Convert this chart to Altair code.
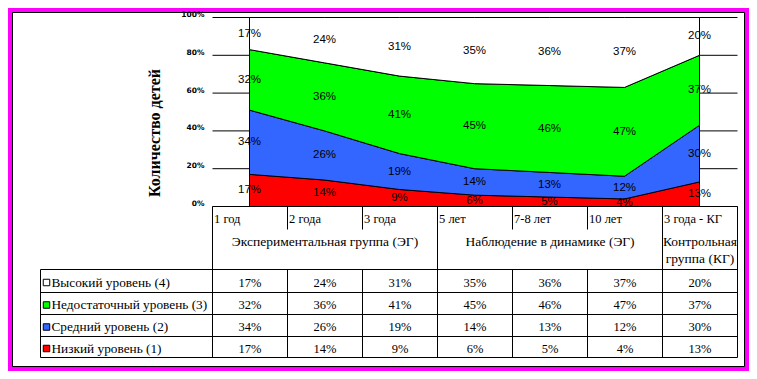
import altair as alt
import pandas as pd

# ---------------- data ----------------
categories = ["1 год", "2 года", "3 года", "5 лет", "7-8 лет", "10 лет", "3 года - КГ"]
series_names = ["Высокий уровень (4)", "Недостаточный уровень (3)", "Средний уровень (2)", "Низкий уровень (1)"]
series_colors = ["#FFFFFF", "#00FF00", "#3366FF", "#FF0000"]
high = [17, 24, 31, 35, 36, 37, 20]
insufficient = [32, 36, 41, 45, 46, 47, 37]
medium = [34, 26, 19, 14, 13, 12, 30]
low = [17, 14, 9, 6, 5, 4, 13]
groups = ["Экспериментальная группа (ЭГ)", "Наблюдение в динамике (ЭГ)", "Контрольная\nгруппа (КГ)"]
group_first = [0, 3, 6]
group_last = [2, 5, 6]
y_ticks = [0, 20, 40, 60, 80, 100]
y_tick_labels = ["0%", "20%", "40%", "60%", "80%", "100%"]
y_title = "Количество детей"

series_values = [high, insufficient, medium, low]

# ---------------- layout (pixels) ----------------
W, H = 741, 363
COL0 = 204.5          # left edge of first table column
COLW = 75
LEG_X = 32.5          # left edge of legend column
HDR_TOP = 198.5
HDR_SPLIT = 221.5
ROWS = [261.5, 284.5, 306.5, 328.5, 349.5]
TABLE_R = COL0 + COLW * len(categories)

xs = alt.Scale(domain=[0, len(categories) - 1], range=[COL0 + COLW / 2 - 0.5, COL0 + COLW * (len(categories) - 0.5) - 0.5], nice=False, zero=False)
ys = alt.Scale(domain=[0, 100], range=[198.5, 9.5], nice=False, zero=False)

# stacked areas (bottom-up cumulative)
area_rows = []
label_rows = []
n = len(categories)
for i in range(n):
    base = 0
    for j in reversed(range(len(series_names))):
        v = series_values[j][i]
        area_rows.append(dict(idx=i, series=series_names[j], lo=base, hi=base + v))
        label_rows.append(dict(idx=i, mid=base + v / 2, txt=f"{v}%"))
        base += v
area_df = pd.DataFrame(area_rows)
label_df = pd.DataFrame(label_rows)

one = pd.DataFrame({"a": [0]})

frame = alt.Chart(one).mark_rect(fill="#FF00FF").encode(
    x=alt.value(0), x2=alt.value(W), y=alt.value(0), y2=alt.value(H))
inner = alt.Chart(one).mark_rect(fill="white", stroke="black", strokeWidth=1).encode(
    x=alt.value(4.5), x2=alt.value(W - 4.5), y=alt.value(4.5), y2=alt.value(H - 4.5))

grid = alt.Chart(pd.DataFrame({"t": y_ticks})).mark_rule(color="black", strokeWidth=1).encode(
    x=alt.value(COL0), x2=alt.value(TABLE_R),
    y=alt.Y("t:Q", scale=ys, axis=None))

ylabels = alt.Chart(pd.DataFrame({"t": y_ticks, "lab": y_tick_labels})).mark_text(
    align="right", baseline="middle", font="DejaVu Sans", fontSize=7.5, fontWeight="bold", dy=-2.5
).encode(x=alt.value(196.5), y=alt.Y("t:Q", scale=ys, axis=None), text="lab:N")

ytitle = alt.Chart(pd.DataFrame({"lab": [y_title]})).mark_text(
    angle=270, align="center", baseline="middle", font="Liberation Serif", fontSize=16, fontWeight="bold"
).encode(x=alt.value(147), y=alt.value(125), text="lab:N")

areas = alt.Chart(area_df).mark_area(stroke="black", strokeWidth=1, interpolate="linear", opacity=1).encode(
    x=alt.X("idx:Q", scale=xs, axis=None),
    y=alt.Y("hi:Q", scale=ys, axis=None),
    y2="lo:Q",
    color=alt.Color("series:N", scale=alt.Scale(domain=series_names, range=series_colors), legend=None),
    detail="series:N")

labels = alt.Chart(label_df).mark_text(
    font="Liberation Sans", fontSize=11.5, baseline="middle", align="center", color="black"
).encode(x=alt.X("idx:Q", scale=xs, axis=None), y=alt.Y("mid:Q", scale=ys, axis=None), text="txt:N")

# table lines
lines = []
lines.append(dict(x1=COL0, x2=TABLE_R, y1=HDR_TOP, y2=HDR_TOP))
for r in ROWS:
    lines.append(dict(x1=LEG_X, x2=TABLE_R, y1=r, y2=r))
lines.append(dict(x1=LEG_X, x2=LEG_X, y1=ROWS[0], y2=ROWS[-1]))
group_edges = set([group_first[0]] + [g + 1 for g in group_last])
for k in range(n + 1):
    x = COL0 + COLW * k
    if k in group_edges:
        lines.append(dict(x1=x, x2=x, y1=HDR_TOP, y2=ROWS[-1]))
    else:
        lines.append(dict(x1=x, x2=x, y1=HDR_TOP, y2=HDR_SPLIT))
        lines.append(dict(x1=x, x2=x, y1=ROWS[0], y2=ROWS[-1]))
lines_df = pd.DataFrame(lines)
table_lines = alt.Chart(lines_df).mark_rule(color="black", strokeWidth=1).encode(
    x=alt.X("x1:Q", scale=None, axis=None), x2="x2:Q",
    y=alt.Y("y1:Q", scale=None, axis=None), y2="y2:Q")

serif = "Liberation Serif"

cat_df = pd.DataFrame({"txt": categories, "x": [COL0 + COLW * i + 1.5 for i in range(n)], "y": [210.5] * n})
cat_text = alt.Chart(cat_df).mark_text(align="left", baseline="middle", font=serif, fontSize=12.5).encode(
    x=alt.X("x:Q", scale=None, axis=None), y=alt.Y("y:Q", scale=None, axis=None), text="txt:N")

grp_df = pd.DataFrame({"txt": groups,
                       "x": [COL0 + COLW * (f + l + 1) / 2 for f, l in zip(group_first, group_last)],
                       "y": [233.5] * len(groups)})
grp_text = alt.Chart(grp_df).mark_text(align="center", baseline="middle", font=serif, fontSize=13.5,
                                       lineBreak="\n", lineHeight=17).encode(
    x=alt.X("x:Q", scale=None, axis=None), y=alt.Y("y:Q", scale=None, axis=None), text="txt:N")

cell_rows = []
for j, vals in enumerate(series_values):
    yc = (ROWS[j] + ROWS[j + 1]) / 2 + 1.5
    for i, v in enumerate(vals):
        cell_rows.append(dict(txt=f"{v}%", x=COL0 + COLW * (i + 0.5), y=yc))
cell_df = pd.DataFrame(cell_rows)
cell_text = alt.Chart(cell_df).mark_text(align="center", baseline="middle", font=serif, fontSize=12.5).encode(
    x=alt.X("x:Q", scale=None, axis=None), y=alt.Y("y:Q", scale=None, axis=None), text="txt:N")

leg_df = pd.DataFrame({"series": series_names,
                       "y": [(ROWS[j] + ROWS[j + 1]) / 2 + 1.5 for j in range(len(series_names))]})
leg_sq = alt.Chart(leg_df).mark_square(size=42, stroke="black", strokeWidth=1, opacity=1).encode(
    x=alt.value(LEG_X + 6), y=alt.Y("y:Q", scale=None, axis=None),
    fill=alt.Fill("series:N", scale=alt.Scale(domain=series_names, range=series_colors), legend=None))
leg_text = alt.Chart(leg_df).mark_text(align="left", baseline="middle", font=serif, fontSize=13.3).encode(
    x=alt.value(LEG_X + 11), y=alt.Y("y:Q", scale=None, axis=None), text="series:N")

chart = alt.layer(
    frame, inner, grid, areas, labels, ylabels, ytitle,
    table_lines, cat_text, grp_text, cell_text, leg_sq, leg_text
).resolve_scale(x="independent", y="independent", color="independent", fill="independent").properties(
    width=W, height=H, autosize=alt.AutoSizeParams(type="none"), padding=0
).configure_view(stroke=None).configure(background="white")

chart.save("out.html", embed_options={"renderer": "svg", "actions": False})
